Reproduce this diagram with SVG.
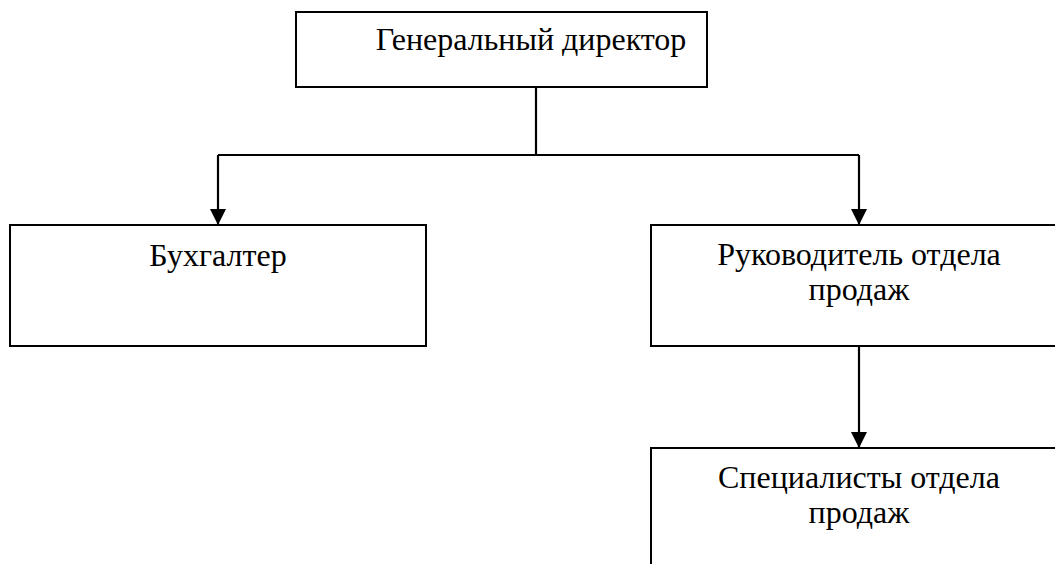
<svg xmlns="http://www.w3.org/2000/svg" width="1055" height="564" viewBox="0 0 1055 564">
<defs>
<style>
.box{fill:#fff;stroke:#000;stroke-width:2}
.t{font-family:"Liberation Serif","Times New Roman",serif;font-size:32px;fill:#000;text-anchor:middle}
.c{fill:none;stroke:#000;stroke-width:2.2}
</style>
<marker id="ah" markerWidth="16" markerHeight="16" refX="16" refY="8" orient="auto" markerUnits="userSpaceOnUse">
<path d="M0,0 L16,8 L0,16 Z" fill="#000"/>
</marker>
</defs>
<rect width="1055" height="564" fill="#fff"/>
<g id="n-director">
<rect class="box" x="296" y="12" width="411" height="75"/>
<text class="t" x="531" y="50">Генеральный директор</text>
</g>
<g id="n-buh">
<rect class="box" x="10" y="225" width="416" height="121"/>
<text class="t" x="218" y="266">Бухгалтер</text>
</g>
<g id="n-ruk">
<rect class="box" x="651" y="225" width="420" height="121"/>
<text class="t" x="859" y="265">Руководитель отдела</text>
<text class="t" x="859" y="300">продаж</text>
</g>
<g id="n-spec">
<rect class="box" x="651" y="448" width="420" height="130"/>
<text class="t" x="859" y="488">Специалисты отдела</text>
<text class="t" x="859" y="523">продаж</text>
</g>
<g id="connectors">
<path class="c" d="M536,87 V155"/>
<path class="c" d="M218,155 H859"/>
<path class="c" d="M218,155 V225" marker-end="url(#ah)"/>
<path class="c" d="M859,155 V225" marker-end="url(#ah)"/>
<path class="c" d="M859,346 V448" marker-end="url(#ah)"/>
</g>
</svg>
